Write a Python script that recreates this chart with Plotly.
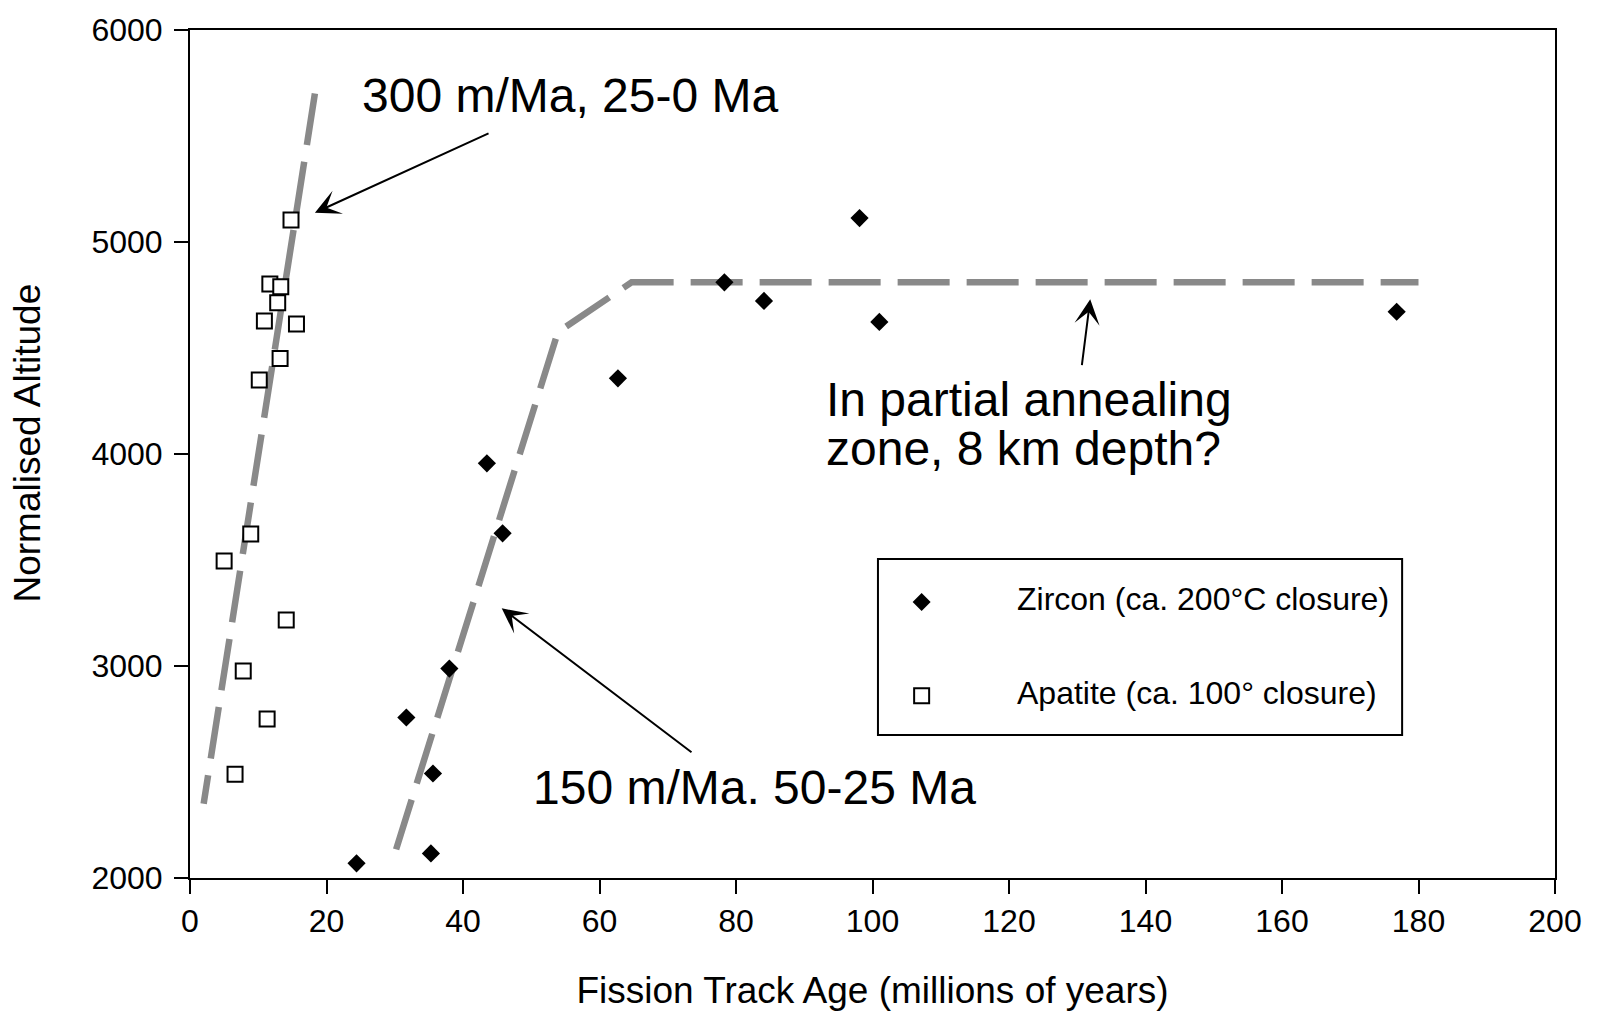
import plotly.graph_objects as go

# ---- data ----
apatite_age = [14.8, 11.7, 13.3, 12.85, 10.9, 15.6, 13.2, 10.15, 8.9, 5.0, 14.1, 7.8, 11.3, 6.6]
apatite_alt = [5104, 4802, 4789, 4714, 4627, 4613, 4451, 4349, 3623, 3495, 3217, 2976, 2750, 2489]

zircon_age = [24.4, 35.3, 35.6, 31.7, 38.0, 45.8, 43.5, 62.7, 78.3, 84.1, 98.1, 101.0, 176.8]
zircon_alt = [2069, 2116, 2493, 2757, 2988, 3626, 3956, 4357, 4810, 4722, 5113, 4623, 4671]

fast_age = [18.3, 2.0]          # 300 m/Ma trend (apatite)
fast_alt = [5700, 2350]
slow_age = [30.2, 53.9, 64.7, 180.0]   # 150 m/Ma trend then plateau (zircon)
slow_alt = [2135, 4575, 4810, 4810]

x_ticks = [0, 20, 40, 60, 80, 100, 120, 140, 160, 180, 200]
y_ticks = [2000, 3000, 4000, 5000, 6000]

zircon_name = "Zircon (ca. 200°C closure)"
apatite_name = "Apatite (ca. 100° closure)"

FONT = "Liberation Sans, Arial, Helvetica, sans-serif"
GREY = "#898989"

fig = go.Figure()

fig.add_trace(go.Scatter(x=fast_age, y=fast_alt, mode="lines",
                         line=dict(color=GREY, width=6.5, dash="52px,17px"),
                         showlegend=False, hoverinfo="skip"))
fig.add_trace(go.Scatter(x=slow_age, y=slow_alt, mode="lines",
                         line=dict(color=GREY, width=6.5, dash="52px,17px"),
                         showlegend=False, hoverinfo="skip"))
fig.add_trace(go.Scatter(x=zircon_age, y=zircon_alt, mode="markers", name=zircon_name,
                         marker=dict(symbol="diamond", size=14, color="black",
                                     line=dict(width=0)),
                         showlegend=False))
fig.add_trace(go.Scatter(x=apatite_age, y=apatite_alt, mode="markers", name=apatite_name,
                         marker=dict(symbol="square", size=15, color="white",
                                     line=dict(color="black", width=2)),
                         showlegend=False))

ann_font = dict(size=48, color="black", family=FONT)
annotations = [
    dict(x=24.9, y=5689, xref="x", yref="y", text="300 m/Ma, 25-0 Ma", showarrow=False,
         xanchor="left", yanchor="middle", font=ann_font),
    dict(x=50.0, y=2425, xref="x", yref="y", text="150 m/Ma. 50-25 Ma", showarrow=False,
         xanchor="left", yanchor="middle", font=ann_font),
    dict(x=92.9, y=4259, xref="x", yref="y", text="In partial annealing", showarrow=False,
         xanchor="left", yanchor="middle", font=ann_font),
    dict(x=92.9, y=4028, xref="x", yref="y", text="zone, 8 km depth?", showarrow=False,
         xanchor="left", yanchor="middle", font=ann_font),
    # arrows
    dict(x=18.3, y=5138, ax=43.96, ay=5516, xref="x", yref="y", axref="x", ayref="y",
         text="", showarrow=True, arrowhead=3, arrowsize=2.1, arrowwidth=2, arrowcolor="black"),
    dict(x=45.67, y=3272, ax=73.7, ay=2588, xref="x", yref="y", axref="x", ayref="y",
         text="", showarrow=True, arrowhead=3, arrowsize=2.1, arrowwidth=2, arrowcolor="black"),
    dict(x=131.9, y=4730, ax=130.65, ay=4412, xref="x", yref="y", axref="x", ayref="y",
         text="", showarrow=True, arrowhead=3, arrowsize=2.1, arrowwidth=2, arrowcolor="black"),
    # legend texts
    dict(x=120.9, y=3316, xref="x", yref="y", text=zircon_name, showarrow=False,
         xanchor="left", yanchor="middle", font=dict(size=32, color="black", family=FONT)),
    dict(x=120.9, y=2875, xref="x", yref="y", text=apatite_name, showarrow=False,
         xanchor="left", yanchor="middle", font=dict(size=32, color="black", family=FONT)),
    # y axis title
    dict(x=-0.119, y=0.513, xref="paper", yref="paper", text="Normalised Altitude",
         showarrow=False, textangle=-90, xanchor="center", yanchor="middle",
         font=dict(size=37, color="black", family=FONT)),
]

shapes = [
    # legend box
    dict(type="rect", xref="x", yref="y", x0=100.8, x1=177.6, y0=2675, y1=3505,
         line=dict(color="black", width=2), fillcolor="white", layer="below"),
    # legend symbols
    dict(type="path", xref="x", yref="y", xsizemode="pixel", ysizemode="pixel",
         xanchor=107.2, yanchor=3302, path="M 0,-9 L 9,0 L 0,9 L -9,0 Z",
         fillcolor="black", line=dict(width=0)),
    dict(type="rect", xref="x", yref="y", xsizemode="pixel", ysizemode="pixel",
         xanchor=107.2, yanchor=2860, x0=-7.5, x1=7.5, y0=-7.5, y1=7.5,
         fillcolor="white", line=dict(color="black", width=2)),
]

fig.update_layout(
    width=1597, height=1012, autosize=False,
    margin=dict(l=190, r=42, t=30, b=134),
    paper_bgcolor="white", plot_bgcolor="white",
    font=dict(family=FONT, color="black"),
    annotations=annotations, shapes=shapes,
    xaxis=dict(range=[0, 200], tickvals=x_ticks, ticks="outside", ticklen=14, tickwidth=2,
               tickcolor="black", showline=True, linecolor="black", linewidth=2, mirror=True,
               showgrid=False, zeroline=False, tickfont=dict(size=32, family=FONT),
               automargin=False,
               title=dict(text="Fission Track Age (millions of years)",
                          font=dict(size=37, family=FONT), standoff=39)),
    yaxis=dict(range=[2000, 6000], tickvals=y_ticks, ticks="outside", ticklen=14, tickwidth=2,
               tickcolor="black", showline=True, linecolor="black", linewidth=2, mirror=True,
               showgrid=False, zeroline=False, tickfont=dict(size=32, family=FONT),
               automargin=False, ticklabelstandoff=5),
)

fig.write_html("out.html")
